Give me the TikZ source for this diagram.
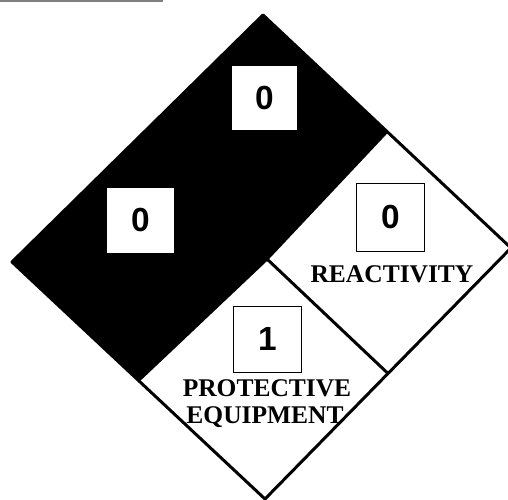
\documentclass[tikz,border=0pt]{standalone}
\usepackage{fontspec}
\setmainfont{Liberation Serif}
\newfontfamily\digitfont{Liberation Sans}
\usetikzlibrary{positioning,calc}

\begin{document}
\begin{tikzpicture}[x=0.02cm, y=-0.02cm,
    edge/.style={line width=1.7pt, line join=round},
    numbox/.style={fill=white, minimum width=1.36cm, minimum height=1.3cm, inner sep=0pt, font=\digitfont\bfseries\fontsize{19}{19}\selectfont},
    boxed/.style={numbox, draw, line width=1.1pt},
    hzdtext/.style={inner sep=0pt, font=\bfseries\fontsize{14.5}{14.5}\selectfont},
]
\useasboundingbox (0,0) rectangle (508,500);
% scan edge at the top
\draw[gray, line width=0.8pt] (0,1) -- (163,1);

% corners of the diamond
\coordinate (top) at (263,15);
\coordinate (rgt) at (511,248);
\coordinate (bot) at (265,499);
\coordinate (lft) at (12,262);
\coordinate (ctr) at (267,259);
\coordinate (mtr) at ($(top)!0.5!(rgt)$);
\coordinate (mbr) at ($(rgt)!0.5!(bot)$);
\coordinate (mbl) at ($(bot)!0.5!(lft)$);

% black half
\fill[black] (top) -- (mtr) -- (ctr) -- (mbl) -- (lft) -- cycle;
\draw[edge] (top) -- (rgt) -- (bot) -- (lft) -- cycle;
\draw[edge] (mtr) -- (ctr) -- (mbl);
\draw[edge] (ctr) -- (mbr);

% rating boxes
\node[numbox, minimum width=1.3cm, minimum height=1.28cm] (health) at (264.5,98) {0};
\node[numbox] (flame) at (140.5,220.5) {0};
\node[boxed, minimum height=1.36cm] (react) at (390.5,217.5) {0};
\node[boxed, minimum height=1.32cm] (protect) at (267.5,339.5) {1};

% labels
\node[hzdtext] (reacttxt) at (392,274) {REACTIVITY};
\node[hzdtext] (prottxt) at (267,388) {PROTECTIVE};
\node[hzdtext] (equiptxt) at (265,417) {EQUIPMENT};
\end{tikzpicture}
\end{document}
